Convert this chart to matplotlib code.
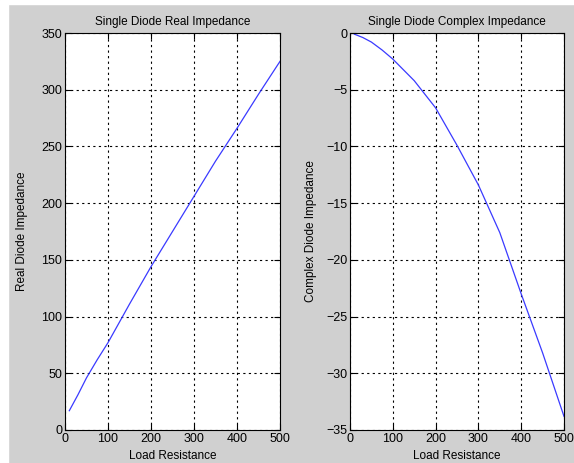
"""
"""

import matplotlib
matplotlib.use('Agg')
import matplotlib.pyplot as plt
from matplotlib.patches import Rectangle

## load resistance samples
load_resistance = [10, 30, 50, 75, 100, 150, 200, 250, 300, 350, 400, 450, 500]

real_impedance = [17, 31, 46, 62, 77, 111, 144, 175, 206, 237, 266, 296, 325]
complex_impedance = [-0.1, -0.4, -0.8, -1.5, -2.3, -4.2, -6.6, -9.9, -13.4,
                     -17.6, -23.0, -28.2, -33.8]

x_ticks = [0, 100, 200, 300, 400, 500]
real_ticks = [0, 50, 100, 150, 200, 250, 300, 350]
complex_ticks = [0, -5, -10, -15, -20, -25, -30, -35]

plt.rcParams['font.family'] = ['Liberation Sans', 'DejaVu Sans']

W, H = 574, 463
fig = plt.figure(figsize=(W / 100.0, H / 100.0), dpi=100)
fig.patch.set_facecolor('#d0d0d0')

# white strip along top and left edge, as in the screenshot
fig.patches.append(Rectangle((0, 1 - 4.0 / H), 1, 4.0 / H,
                             transform=fig.transFigure, color='white',
                             zorder=0))
fig.patches.append(Rectangle((0, 0), 8.0 / W, 1,
                             transform=fig.transFigure, color='white',
                             zorder=0))


def make_axes(left, right, top, bottom):
    return fig.add_axes([left / W, 1 - bottom / H,
                         (right - left) / W, (bottom - top) / H])


ax1 = make_axes(65, 280, 33, 430)
ax2 = make_axes(350, 564, 33, 430)

panels = [
    (ax1, real_impedance, real_ticks, (0, 350),
     'Single Diode Real Impedance', 'Real Diode Impedance', 28),
    (ax2, complex_impedance, complex_ticks, (-35, 0),
     'Single Diode Complex Impedance', 'Complex Diode Impedance', 317),
]

for ax, values, yticks, ylim, title, ylabel, label_x in panels:
    ax.plot(load_resistance, values, color='#3a3aff', lw=0.9)
    ax.set_xlim(0, 500)
    ax.set_ylim(*ylim)
    ax.set_xticks(x_ticks)
    ax.set_yticks(yticks)
    ax.grid(True, color='black', linestyle=(0, (2, 3)), linewidth=0.8)
    ax.tick_params(direction='in', length=4, labelsize=9, colors='black',
                   top=True, right=True, pad=2)
    for s in ax.spines.values():
        s.set_linewidth(0.8)
    ax.set_title(title, fontsize=8.5, pad=6)
    ax.set_xlabel('Load Resistance', fontsize=8.5, labelpad=3.5)
    ax.set_ylabel(ylabel, fontsize=8.5)
    # pin the y label where it sits in the reference
    ax.yaxis.set_label_coords(
        *ax.transAxes.inverted().transform(
            fig.transFigure.transform((label_x / W, 0.5)))[:1], 0.5)

fig.savefig('out.png', dpi=100, facecolor=fig.get_facecolor())
